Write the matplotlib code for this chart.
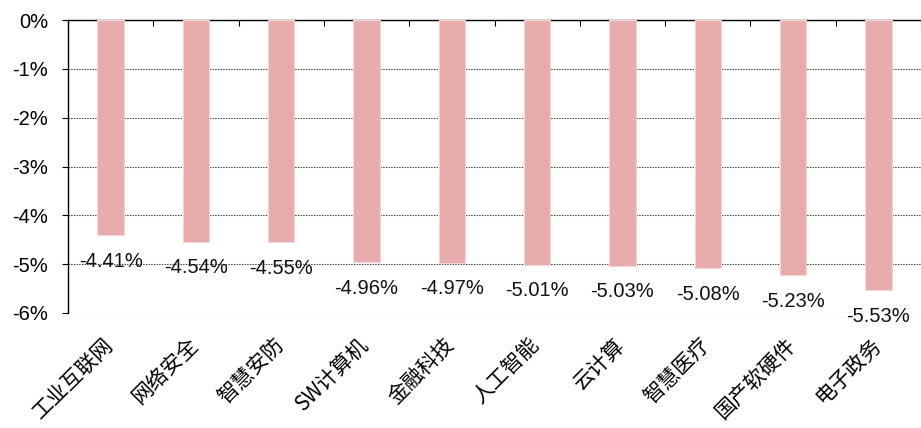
import matplotlib
matplotlib.use("Agg")
import matplotlib.pyplot as plt
import matplotlib.transforms as mtransforms
from matplotlib.ticker import FuncFormatter, MultipleLocator

categories = ["工业互联网", "网络安全", "智慧安防", "SW计算机", "金融科技",
              "人工智能", "云计算", "智慧医疗", "国产软硬件", "电子政务"]
values = [-4.41, -4.54, -4.55, -4.96, -4.97, -5.01, -5.03, -5.08, -5.23, -5.53]
y_ticks = [0, -1, -2, -3, -4, -5, -6]

plt.rcParams["font.family"] = ["Liberation Sans", "Noto Sans CJK SC", "DejaVu Sans"]

fig = plt.figure(figsize=(9.21, 4.28), dpi=100)
ax = fig.add_axes([68 / 921, 1 - 313 / 428, 1 - 68 / 921, (313 - 20) / 428])

x = list(range(len(categories)))
ax.bar(x, values, width=0.31, color="#E8ACAC", edgecolor="#F4D6D6",
       linewidth=0.8, zorder=3)

for xi, v in zip(x, values):
    ax.annotate(f"{v:.2f}%", xy=(xi, v), xytext=(0, -12), textcoords="offset points",
                ha="center", va="top", fontsize=14.5, color="#111111", zorder=4)

ax.set_xlim(-0.5, len(categories) - 0.5)
ax.set_ylim(-6, 0)
ax.set_yticks(y_ticks)
ax.yaxis.set_major_formatter(FuncFormatter(lambda v, p: f"{v:.0f}%"))
ax.tick_params(axis="y", labelsize=14.5, length=4.3, width=0.8, direction="out",
               colors="black", pad=10)

ax.set_xticks(x)
ax.set_xticklabels(categories, rotation=45, ha="right", rotation_mode="anchor",
                   fontsize=15, family=["Noto Sans CJK SC", "DejaVu Sans"])
ax.tick_params(axis="x", which="major", length=0, pad=15)
shift = mtransforms.ScaledTranslation(-9 / 100, 0, fig.dpi_scale_trans)
for lbl in ax.get_xticklabels():
    lbl.set_transform(lbl.get_transform() + shift)

ax.xaxis.set_minor_locator(MultipleLocator(1, offset=0.5))
ax.tick_params(axis="x", which="minor", top=True, bottom=False, direction="in",
               length=4.3, width=0.8)

ax.yaxis.grid(True, linestyle=(0, (1.2, 1.2)), color="#333333", linewidth=0.8, zorder=0)
ax.set_axisbelow(True)

ax.spines["right"].set_visible(False)
ax.spines["bottom"].set_visible(False)
ax.spines["top"].set_linewidth(1.0)
ax.spines["left"].set_linewidth(1.0)

fig.savefig("out.png", dpi=100)
